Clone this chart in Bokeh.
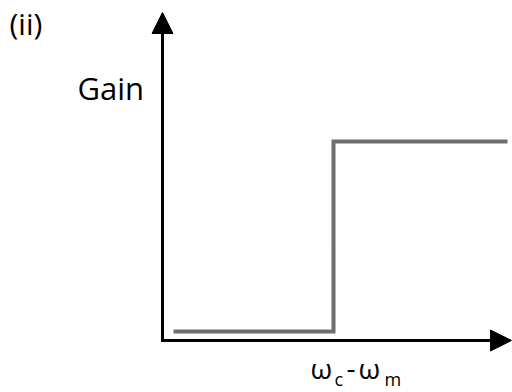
from bokeh.plotting import figure
from bokeh.models import Range1d, Arrow, NormalHead
from bokeh.core.properties import value
from bokeh.embed import file_html
from bokeh.resources import INLINE

# Data (arbitrary frequency / gain units, origin at the axes' crossing)
freq = [11, 171, 171, 345]
gain = [9, 9, 199, 199]
panel_label = "(ii)"
y_label = "Gain"
x_label_main = ["ω", "-", "ω"]
x_label_sub = ["c", "m"]

W, H = 512, 392
p = figure(width=W, height=H, output_backend="svg", toolbar_location=None,
           x_range=Range1d(-162, 350), y_range=Range1d(-52, 340),
           x_axis_type=None, y_axis_type=None, min_border=0)
p.grid.visible = False
p.outline_line_color = None
p.background_fill_color = "white"

# Gain curve
p.line(freq, gain, line_color="#6e6e6e", line_width=4, line_join="miter")

# Axes with arrowheads
for xs, ys, xe, ye in [(0, -1.5, 0, 328), (-1.5, 0, 349, 0)]:
    p.add_layout(Arrow(end=NormalHead(size=21, fill_color="black", fill_alpha=1.0,
                                      line_color="black", line_width=1),
                       x_start=xs, y_start=ys, x_end=xe, y_end=ye,
                       line_color="black", line_width=3))

font = value("Open Sans")
p.text(x=[-153], y=[317], text=[panel_label], text_font=font,
       text_font_size="30px", text_color="black", text_baseline="alphabetic")
p.text(x=[-85], y=[253], text=[y_label], text_font=font,
       text_font_size="31px", text_color="black", text_baseline="alphabetic")
p.text(x=[148, 184, 196], y=[-27, -27, -27], text=x_label_main, text_font=font,
       text_font_size="28px", text_color="black", text_baseline="alphabetic")
p.text(x=[172, 222], y=[-38, -38], text=x_label_sub, text_font=font,
       text_font_size="18px", text_color="black", text_baseline="alphabetic")

open("out.html", "w").write(file_html(p, INLINE))
